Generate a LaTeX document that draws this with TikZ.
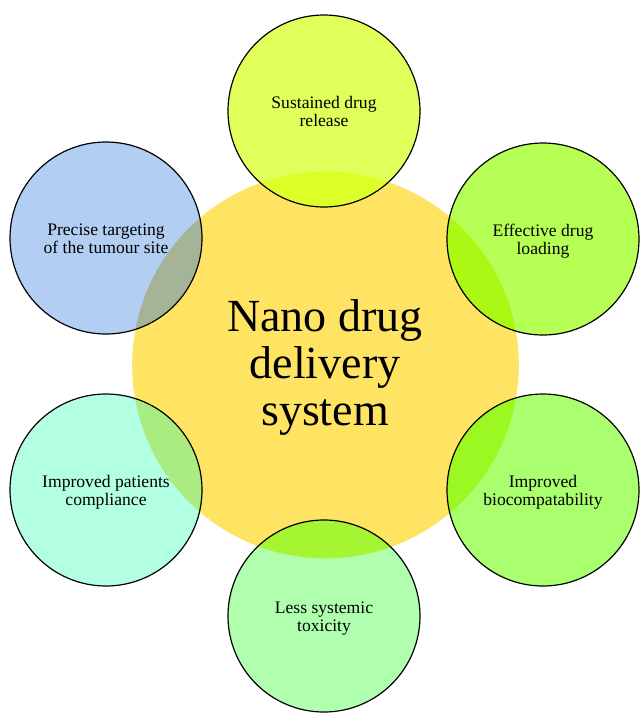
\documentclass[tikz,border=0pt]{standalone}
\usepackage{tikz}
\usepackage{fontspec}
\setmainfont{Liberation Serif}
\definecolor{hubcol}{RGB}{255,228,100}
\definecolor{topcol}{RGB}{224,255,90}
\definecolor{topmix}{RGB}{220,255,40}
\definecolor{loadcol}{RGB}{182,255,85}
\definecolor{loadmix}{RGB}{170,248,20}
\definecolor{biocol}{RGB}{170,255,110}
\definecolor{biomix}{RGB}{155,248,35}
\definecolor{toxcol}{RGB}{175,255,175}
\definecolor{toxmix}{RGB}{165,245,50}
\definecolor{compcol}{RGB}{178,255,225}
\definecolor{compmix}{RGB}{170,235,130}
\definecolor{targcol}{RGB}{178,207,243}
\definecolor{targmix}{RGB}{165,180,150}
\tikzset{
  petal/.style n args={2}{circle,draw=black,line width=0.9pt,minimum size=144pt,inner sep=0pt,align=center,
    font=\fontsize{13.2}{13.5}\selectfont,fill=#1,text height=25.5pt,text depth=3pt,
    path picture={\fill[#2] (hub) circle [radius=145pt];}},
}
\begin{document}
\begin{tikzpicture}[x=0.75pt,y=-0.75pt]
   \useasboundingbox (0,0) rectangle (640,722);
   \node[circle,fill=hubcol,minimum size=290pt,inner sep=0pt] (hub) at (325.5,365) {};

   \node[petal={topcol}{topmix}] (release) at (324,111) {Sustained drug\\release};
   \node[petal={loadcol}{loadmix}] (loading) at (543,239) {Effective drug\\loading};
   \node[petal={biocol}{biomix}] (biocomp) at (543,490) {Improved\\biocompatability};
   \node[petal={toxcol}{toxmix}] (toxicity) at (324,616) {Less systemic\\toxicity};
   \node[petal={compcol}{compmix}] (compliance) at (106,490) {Improved patients\\compliance};
   \node[petal={targcol}{targmix}] (targeting) at (106,238) {Precise targeting\\of the tumour site};

   \node[align=center,font=\fontsize{34.5}{35.6}\selectfont] (title) at (325,367.5) {Nano drug\\delivery\\system};
\end{tikzpicture}
\end{document}
